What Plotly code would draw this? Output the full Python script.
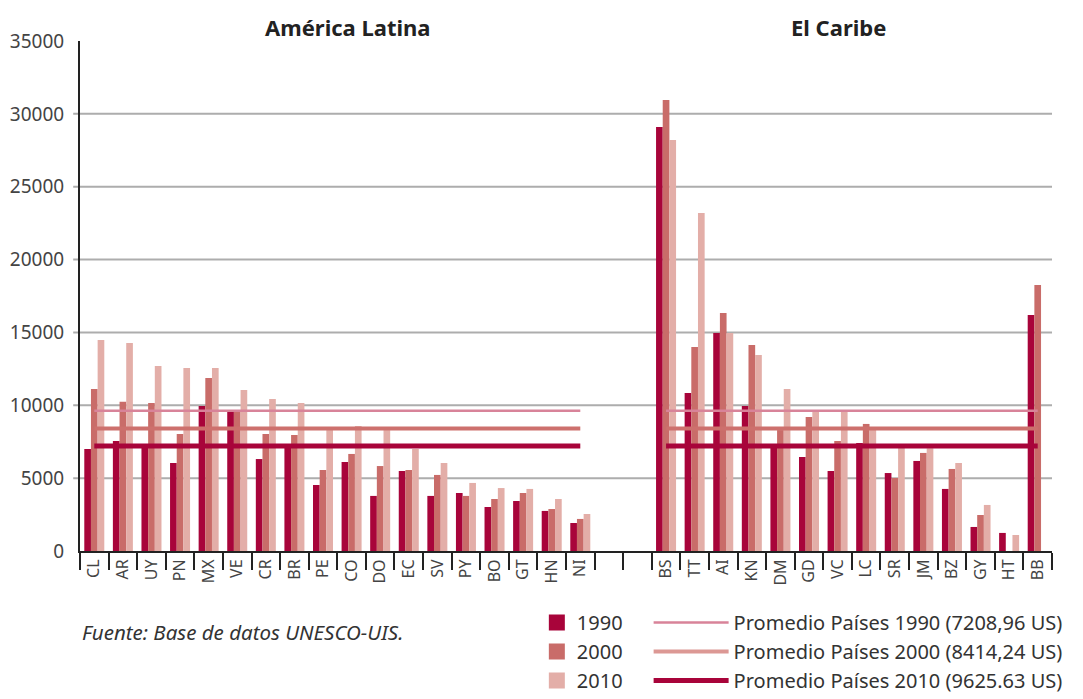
import plotly.graph_objects as go

latam = ["CL", "AR", "UY", "PN", "MX", "VE", "CR", "BR", "PE", "CO", "DO", "EC", "SV", "PY", "BO", "GT", "HN", "NI"]
caribe = ["BS", "TT", "AI", "KN", "DM", "GD", "VC", "LC", "SR", "JM", "BZ", "GY", "HT", "BB"]
gap = [" ", "  "]
countries = latam + caribe

v1990 = [7000, 7550, 7200, 6040, 9950, 9680, 6310, 7200, 4530, 6110, 3780, 5490, 3780, 3980, 3020, 3430, 2750, 1920,
         29100, 10840, 14960, 9950, 7200, 6450, 5490, 7410, 5350, 6180, 4260, 1650, 1240, 16200]
v2000 = [11120, 10250, 10160, 8030, 11870, 9680, 8030, 7960, 5560, 6660, 5830, 5560, 5220, 3780, 3570, 3980, 2880, 2200,
         30950, 14000, 16330, 14140, 8300, 9200, 7550, 8720, 5010, 6730, 5630, 2470, None, 18260]
v2010 = [14480, 14280, 12700, 12560, 12560, 11050, 10430, 10160, 8300, 8580, 8300, 7000, 6040, 4670, 4320, 4260, 3570, 2540,
         28210, 23200, 14960, 13450, 11120, 9610, 9610, 8400, 7070, 7050, 6040, 3160, 1100, None]

years = ["1990", "2000", "2010"]
bar_colors = ["#a8043a", "#c96c69", "#e3aea8"]

avg_levels = [9625.63, 8414.24, 7208.96]
avg_labels = ["Promedio Países 1990 (7208,96 US)", "Promedio Países 2000 (8414,24 US)", "Promedio Países 2010 (9625.63 US)"]
avg_colors = ["#d88399", "#cd706d", "#a8043a"]
legend_line_colors = ["#d88399", "#dc9894", "#a8043a"]
avg_widths = [2.5, 4, 5]

yticks = [0, 5000, 10000, 15000, 20000, 25000, 30000, 35000]

FONT = "Noto Sans"
fig = go.Figure()

for yr, vals, col in zip(years, [v1990, v2000, v2010], bar_colors):
    fig.add_trace(go.Bar(x=countries, y=vals, name=yr, marker=dict(color=col, line=dict(width=0)),
                         showlegend=False))

for lvl, lab, col, w in zip(avg_levels, avg_labels, avg_colors, avg_widths):
    fig.add_trace(go.Scatter(x=[latam[0], latam[-1], None, caribe[0], caribe[-1]],
                             y=[lvl, lvl, None, lvl, lvl], mode="lines", name=lab,
                             line=dict(color=col, width=w), showlegend=False))

# legend entries
for yr, col in zip(years, bar_colors):
    fig.add_trace(go.Scatter(x=[None], y=[None], mode="markers", name=yr,
                             marker=dict(symbol="square", size=19, color=col), legend="legend"))
for lab, col, w in zip(avg_labels, legend_line_colors, avg_widths):
    fig.add_trace(go.Scatter(x=[None], y=[None], mode="lines", name=lab,
                             line=dict(color=col, width=w), legend="legend2"))

shapes = []
for v in yticks[1:-1]:
    shapes.append(dict(type="line", xref="paper", yref="y", x0=-0.007, x1=1.0, y0=v, y1=v,
                       line=dict(color="#adadad", width=2), layer="below"))

fig.update_layout(
    width=1083, height=699,
    margin=dict(l=80, r=31, t=41, b=148, autoexpand=False),
    plot_bgcolor="white", paper_bgcolor="white",
    font=dict(family=FONT, color="#333"),
    barmode="group", bargap=0.3, bargroupgap=0,
    shapes=shapes,
    xaxis=dict(type="category", categoryorder="array", categoryarray=latam + gap + caribe,
               range=[-0.5, len(latam) + len(gap) + len(caribe) - 0.5],
               tickson="boundaries", ticks="outside", ticklen=17, tickwidth=2, tickcolor="#222",
               showline=True, linecolor="#222", linewidth=2, showgrid=False, automargin=False,
               tickangle=-90, tickfont=dict(size=16, color="#444", family=FONT)),
    yaxis=dict(range=[0, 35000], tickvals=yticks, ticktext=[str(t) for t in yticks],
               showgrid=False, zeroline=False, showline=True, linecolor="#222", linewidth=2,
               automargin=False,
               ticks="", ticklabelstandoff=10, tickfont=dict(size=19, color="#444", family=FONT)),
    legend=dict(x=0.470, y=-0.102, xanchor="left", yanchor="top", orientation="v",
                font=dict(size=20, color="#333", family=FONT), bgcolor="rgba(0,0,0,0)",
                tracegroupgap=0, itemsizing="trace", itemwidth=30),
    legend2=dict(x=0.585, y=-0.102, xanchor="left", yanchor="top", orientation="v",
                 font=dict(size=20, color="#333", family=FONT), bgcolor="rgba(0,0,0,0)",
                 tracegroupgap=0, itemwidth=75),
    annotations=[
        dict(text="<b>América Latina</b>", xref="paper", yref="paper", x=0.276, y=1.027,
             xanchor="center", yanchor="middle", showarrow=False, font=dict(size=22, color="#222")),
        dict(text="<b>El Caribe</b>", xref="paper", yref="paper", x=0.78, y=1.027,
             xanchor="center", yanchor="middle", showarrow=False, font=dict(size=22, color="#222")),
        dict(text="<i>Fuente: Base de datos UNESCO-UIS.</i>", xref="paper", yref="paper", x=0.0, y=-0.159,
             xanchor="left", yanchor="middle", showarrow=False, font=dict(size=20.5, color="#333")),
    ],
)

fig.write_html("out.html", config={"displayModeBar": False},
               post_script="document.body.style.margin='0px';")
